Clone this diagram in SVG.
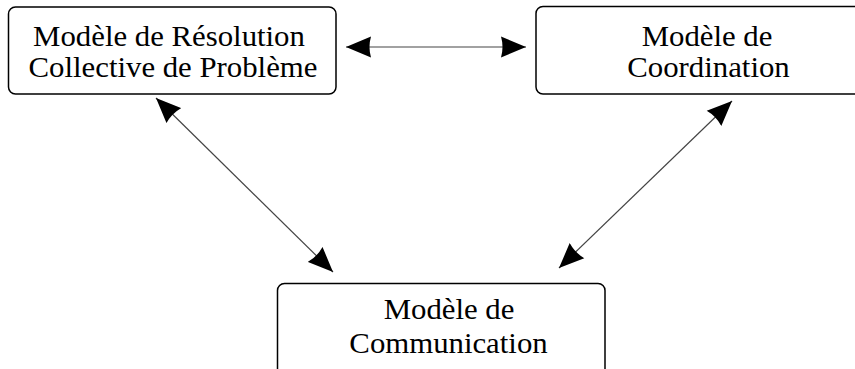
<svg xmlns="http://www.w3.org/2000/svg" width="855" height="369" viewBox="0 0 855 369">
<style>
.box{fill:#fff;stroke:#000;stroke-width:1.5}
.lbl{font-family:"Liberation Serif","Times New Roman",serif;font-size:28.5px;fill:#000;text-anchor:middle}
.conn{stroke:#444;stroke-width:1.2;fill:none;marker-start:url(#ah);marker-end:url(#ah)}
</style>
<defs>
<marker id="ah" markerUnits="userSpaceOnUse" markerWidth="26" markerHeight="22" refX="25" refY="11" orient="auto-start-reverse" viewBox="0 0 26 22">
<path d="M0,0.5 L25,11 L0,21.5 Q3,11 0,0.5 z" fill="#000"/>
</marker>
</defs>
<rect width="855" height="369" fill="#fff"/>
<g id="connectors">
<line class="conn" x1="346" y1="47" x2="526" y2="47"/>
<line class="conn" x1="156" y1="98" x2="333" y2="272"/>
<line class="conn" x1="732" y1="101" x2="559" y2="268"/>
</g>
<g id="node-resolution">
<rect class="box" x="8.5" y="7" width="327.5" height="87" rx="7"/>
<text class="lbl" transform="translate(169,45.5) scale(1.08,1)">Modèle de Résolution</text>
<text class="lbl" transform="translate(173,76.5) scale(1.08,1)">Collective de Problème</text>
</g>
<g id="node-coordination">
<rect class="box" x="536" y="6.5" width="344" height="87.5" rx="7"/>
<text class="lbl" transform="translate(707,45.5) scale(1.08,1)">Modèle de</text>
<text class="lbl" transform="translate(708.5,76.5) scale(1.08,1)">Coordination</text>
</g>
<g id="node-communication">
<rect class="box" x="277.5" y="283.5" width="327.5" height="100" rx="7"/>
<text class="lbl" transform="translate(449,319) scale(1.08,1)">Modèle de</text>
<text class="lbl" transform="translate(448.5,353) scale(1.08,1)">Communication</text>
</g>
</svg>
